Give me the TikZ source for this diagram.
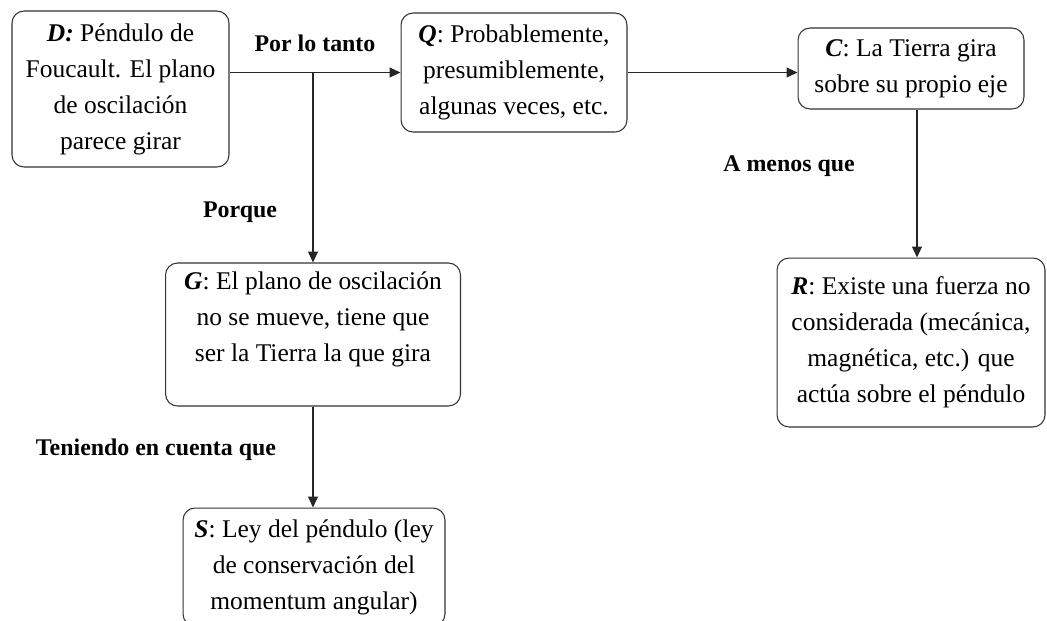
\documentclass[tikz,border=0pt]{standalone}
\usepackage{fontspec}
\setmainfont{Liberation Serif}
\usetikzlibrary{arrows.meta}
\begin{document}
\begin{tikzpicture}[x=0.02cm,y=-0.02cm,
  claim box/.style={draw=black!80,line width=0.6pt,rounded corners=0.24cm,align=center,
    inner sep=0pt,font=\fontsize{14.5}{20.5}\selectfont},
  link label/.style={font=\fontsize{13.6}{15}\selectfont\bfseries},
  link/.style={draw=black!85,line width=0.6pt,-{Triangle[length=2.2mm,width=2mm]}}]
  \useasboundingbox (0,0) rectangle (1047,620);

  \node[claim box,minimum width=4.34cm,minimum height=3.12cm] (D) at (120.5,89)
    {\textbf{\textit{D:}} Péndulo de\\Foucault. El plano\\de oscilación\\parece girar};
  \node[claim box,minimum width=4.52cm,minimum height=2.38cm] (Q) at (514,72.5)
    {\textbf{\textit{Q}}: Probablemente,\\presumiblemente,\\algunas veces, etc.};
  \node[claim box,minimum width=4.52cm,minimum height=1.62cm] (C) at (911,68.5)
    {\textbf{\textit{C}}: La Tierra gira\\sobre su propio eje};
  \node[claim box,minimum width=5.36cm,minimum height=3.38cm] (R) at (911,342.5)
    {\textbf{\textit{R}}: Existe una fuerza no\\considerada (mecánica,\\magnética, etc.) que\\actúa sobre el péndulo};
  \node[claim box,minimum width=5.9cm,minimum height=2.86cm] (G) at (313,334.5)
    {\textbf{\textit{G}}: El plano de oscilación\\no se mueve, tiene que\\ser la Tierra la que gira\\\mbox{}};
  \node[claim box,minimum width=5.24cm,minimum height=2.36cm] (S) at (314,567)
    {\textbf{\textit{S}}: Ley del péndulo (ley\\de conservación del\\momentum angular)};

  \coordinate (j) at (G.north |- Q.west);

  \draw[link] (D.east |- Q.west) -- (Q.west);
  \draw[link] (j) -- (G.north);
  \draw[link] (Q.east) -- (Q.east -| C.west);
  \draw[link] ([xshift=0.12cm]C.south) -- ([xshift=0.12cm]R.north);
  \draw[link] (G.south) -- (G.south |- S.north);

  \node[link label] (l1) at (315,43) {Por lo tanto};
  \node[link label] (l2) at (240,212) {Porque};
  \node[link label] (l3) at (789,166) {A menos que};
  \node[link label] (l4) at (156,450) {Teniendo en cuenta que};
\end{tikzpicture}
\end{document}
